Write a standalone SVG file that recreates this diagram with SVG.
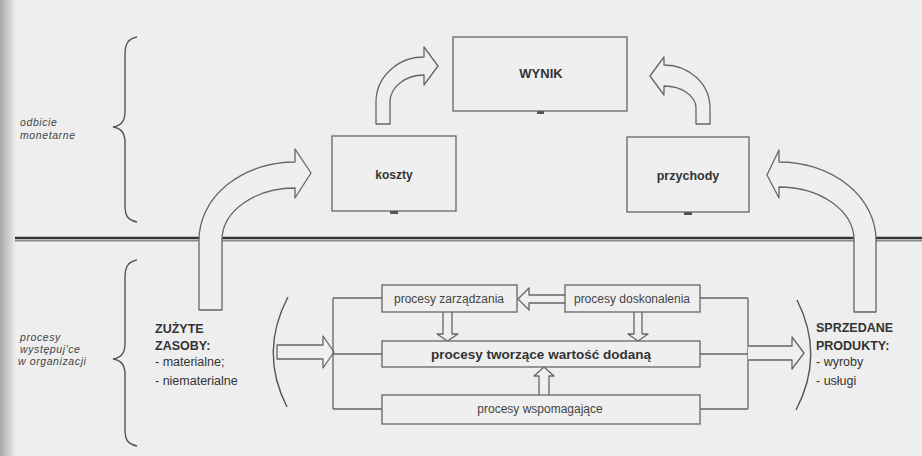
<svg xmlns="http://www.w3.org/2000/svg" width="922" height="456" viewBox="0 0 922 456">
  <defs>
    <linearGradient id="edge" x1="0" y1="0" x2="1" y2="0">
      <stop offset="0" stop-color="#a8a8a8"/>
      <stop offset="1" stop-color="#eeeeee"/>
    </linearGradient>
    <style>
      .box { fill: #efefef; stroke: #666; stroke-width: 1.3; }
      .flow { fill: #efefef; stroke: #666; stroke-width: 1.3; stroke-linejoin: round; }
      .wire { fill: none; stroke: #666; stroke-width: 1.3; }
      .brace { fill: none; stroke: #555; stroke-width: 1.4; }
      .tab { fill: #555; }
      .t { font-family: "Liberation Sans", Arial, sans-serif; fill: #333; }
      .b { font-weight: bold; }
      .proc { font-size: 12px; fill: #444; text-anchor: middle; }
      .side { font-size: 10.5px; font-style: italic; fill: #444; letter-spacing: 0.6px; }
      .list { font-size: 12.5px; }
    </style>
  </defs>

  <!-- page -->
  <rect x="0" y="0" width="922" height="456" fill="#eeeeee"/>
  <rect x="0" y="0" width="16" height="456" fill="url(#edge)"/>

  <!-- dividing rule between the monetary and the process levels -->
  <g id="divider">
    <line x1="15" y1="238" x2="922" y2="238" stroke="#333" stroke-width="2.4"/>
    <line x1="15" y1="240.8" x2="922" y2="240.8" stroke="#8a8a8a" stroke-width="1.4"/>
  </g>

  <!-- side braces and their captions -->
  <g id="level-monetary">
    <path class="brace" d="M137,37 C127,39 125,45 125,55 L125,112 C125,122 120,126 113,127 C120,128 125,132 125,142 L125,205 C125,215 127,220 137,222"/>
    <text class="t side" x="20" y="126">odbicie</text>
    <text class="t side" x="20" y="139">monetarne</text>
  </g>
  <g id="level-processes">
    <path class="brace" d="M137,260 C127,262 125,268 125,278 L125,344 C125,354 120,358 113,359 C120,360 125,364 125,374 L125,429 C125,439 127,444 137,446"/>
    <text class="t side" x="20" y="341">procesy</text>
    <text class="t side" x="20" y="353">występuj'ce</text>
    <text class="t side" x="18" y="365">w organizacji</text>
  </g>

  <!-- connectors -->
  <g id="connectors">
    <!-- big curved arrows crossing the rule -->
    <path class="flow" d="M199,310 L199,240 A96,78 0 0 1 295,162 L295,149 L311,173 L295,198 L295,188 A73,52 0 0 0 222,240 L222,310 Z"/>
    <path class="flow" d="M876,312 L876,240 A97,78 0 0 0 779,162 L779,150 L767,175 L779,198 L779,187 A75,53 0 0 1 854,240 L854,312 Z"/>
    <!-- small curved arrows into WYNIK -->
    <path class="flow" d="M376,124 L376,102 A48,45 0 0 1 424,57 L424,47 L438,66 L424,85 L424,75 A34,27 0 0 0 390,102 L390,124 Z"/>
    <path class="flow" d="M710,124 L710,108 A46,43 0 0 0 664,65 L664,57 L650,76 L664,95 L664,86 A32,22 0 0 1 696,108 L696,124 Z"/>
    <!-- input of used resources -->
    <path class="flow" d="M277,345 L323,345 L323,336 L334,352 L323,368 L323,359 L277,359 Z"/>
    <path class="wire" d="M333,298 L333,409 M333,298 L382,298 M333,354 L382,354 M333,409 L382,409"/>
    <!-- output of sold products -->
    <path class="wire" d="M700,298 L748,298 M700,354 L748,354 M700,409 L748,409 M748,298 L748,409"/>
    <path class="flow" d="M748,346 L792,346 L792,337 L804,353 L792,369 L792,360 L748,360"/>
    <!-- links between process groups -->
    <path class="flow" d="M565,295 L529,295 L529,288 L518,299 L529,310 L529,303 L565,303"/>
    <path class="flow" d="M443,312 L443,334 L437,334 L447.5,341 L458,334 L452,334 L452,312"/>
    <path class="flow" d="M634,312 L634,334 L628,334 L638,341 L648,334 L642,334 L642,312"/>
    <path class="flow" d="M539,395 L539,376 L534,376 L544,367 L554,376 L549,376 L549,395"/>
    <!-- brackets around the process block -->
    <path class="brace" d="M288,297 Q259,352 287,407"/>
    <path class="brace" d="M797,300 Q825,355 796,410"/>
  </g>

  <!-- monetary level -->
  <g id="wynik">
    <rect class="box" x="453" y="37" width="174" height="74"/>
    <rect class="tab" x="537" y="111" width="7" height="3"/>
    <text class="t b" x="541" y="78" font-size="13" text-anchor="middle">WYNIK</text>
  </g>
  <g id="koszty">
    <rect class="box" x="332" y="136" width="124" height="75"/>
    <rect class="tab" x="390" y="211" width="8" height="3"/>
    <text class="t b" x="394" y="179" font-size="12" text-anchor="middle">koszty</text>
  </g>
  <g id="przychody">
    <rect class="box" x="627" y="137" width="122" height="75"/>
    <rect class="tab" x="684" y="212" width="8" height="3"/>
    <text class="t b" x="688" y="180" font-size="12.5" text-anchor="middle">przychody</text>
  </g>

  <!-- resources in -->
  <g id="zuzyte-zasoby">
    <text class="t b list" x="155" y="333">ZUŻYTE</text>
    <text class="t b list" x="155" y="350">ZASOBY:</text>
    <text class="t list" x="155" y="366">- materialne;</text>
    <text class="t list" x="155" y="385">- niematerialne</text>
  </g>

  <!-- process groups -->
  <g id="procesy-zarzadzania">
    <rect class="box" x="382" y="285" width="135" height="27"/>
    <text class="t proc" x="449" y="303">procesy zarządzania</text>
  </g>
  <g id="procesy-doskonalenia">
    <rect class="box" x="565" y="285" width="135" height="27"/>
    <text class="t proc" x="632" y="303">procesy doskonalenia</text>
  </g>
  <g id="procesy-tworzace">
    <rect class="box" x="382" y="341" width="318" height="26"/>
    <text class="t b" x="541" y="359" font-size="13.5" text-anchor="middle">procesy tworzące wartość dodaną</text>
  </g>
  <g id="procesy-wspomagajace">
    <rect class="box" x="382" y="395" width="318" height="29"/>
    <text class="t proc" x="540" y="413">procesy wspomagające</text>
  </g>

  <!-- products out -->
  <g id="sprzedane-produkty">
    <text class="t b list" x="816" y="332">SPRZEDANE</text>
    <text class="t b list" x="816" y="350">PRODUKTY:</text>
    <text class="t list" x="816" y="366">- wyroby</text>
    <text class="t list" x="816" y="385">- usługi</text>
  </g>
</svg>
